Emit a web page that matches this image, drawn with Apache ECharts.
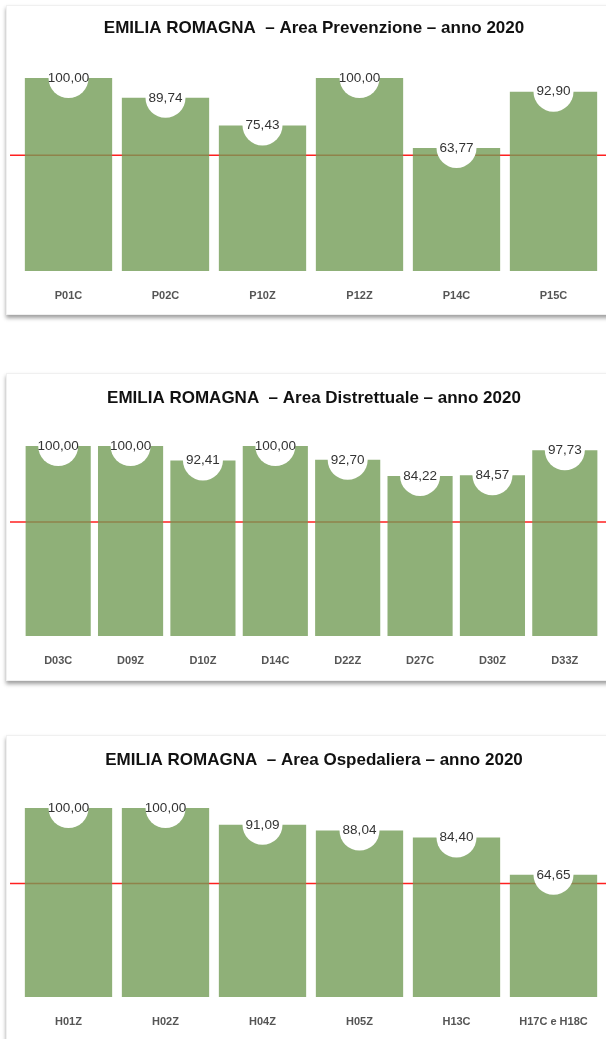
<!DOCTYPE html>
<html>
<head>
<meta charset="utf-8">
<title>Emilia Romagna 2020</title>
<script src="https://cdn.jsdelivr.net/npm/echarts@6/dist/echarts.min.js"></script>
<style>
  html, body { margin: 0; padding: 0; background: #fff; overflow: hidden; }
  body { width: 606px; height: 1039px; position: relative; }
  .card { position: absolute; left: 6px; width: 700px; background: #fff;
          border: 1px solid #f0f0f0; box-shadow: 0 3px 4px rgba(0,0,0,0.38); }
  #main { position: absolute; left: 0; top: 0; width: 606px; height: 1039px; }
</style>
</head>
<body>
<div class="card" style="top:5px;height:308px;"></div>
<div class="card" style="top:373px;height:306px;"></div>
<div class="card" style="top:735px;height:400px;"></div>
<div id="main"></div>
<script type="text/javascript">
// dati
var titoli = [
  'EMILIA ROMAGNA  \u2013 Area Prevenzione \u2013 anno 2020',
  'EMILIA ROMAGNA  \u2013 Area Distrettuale \u2013 anno 2020',
  'EMILIA ROMAGNA  \u2013 Area Ospedaliera \u2013 anno 2020'
];
var catPrev = ['P01C', 'P02C', 'P10Z', 'P12Z', 'P14C', 'P15C'];
var valPrev = [100.00, 89.74, 75.43, 100.00, 63.77, 92.90];
var catDist = ['D03C', 'D09Z', 'D10Z', 'D14C', 'D22Z', 'D27C', 'D30Z', 'D33Z'];
var valDist = [100.00, 100.00, 92.41, 100.00, 92.70, 84.22, 84.57, 97.73];
var catOsp = ['H01Z', 'H02Z', 'H04Z', 'H05Z', 'H13C', 'H17C e H18C'];
var valOsp = [100.00, 100.00, 91.09, 88.04, 84.40, 64.65];
var soglia = 60;

// layout dei tre pannelli
var pannelli = [
  { cat: catPrev, val: valPrev, titleY: 20, top: 78, height: 193, left: 20, right: 4 },
  { cat: catDist, val: valDist, titleY: 390, top: 446, height: 190, left: 22, right: 5 },
  { cat: catOsp, val: valOsp, titleY: 752, top: 808, height: 189, left: 20, right: 4 }
];

var font = 'Liberation Sans, Arial, Helvetica, sans-serif';
var fmt = function (v) { return v.toFixed(2).replace('.', ','); };

var title = [], grid = [], xAxis = [], yAxis = [], series = [];

pannelli.forEach(function (p, i) {
  title.push({
    text: titoli[i], left: 314, top: p.titleY, textAlign: 'center', padding: 0,
    textStyle: { fontFamily: font, fontSize: 17, fontWeight: 'bold', color: '#111' }
  });
  // griglia delle barre
  grid.push({ left: p.left, right: p.right, top: p.top, height: p.height });
  // griglia della soglia (più larga)
  grid.push({ left: 10, right: 0, top: p.top, height: p.height });

  var gb = i * 2, gs = i * 2 + 1;
  xAxis.push({
    type: 'category', gridIndex: gb, data: p.cat,
    axisLine: { show: false }, axisTick: { show: false },
    axisLabel: { margin: 19, fontFamily: font, fontSize: 11, fontWeight: 'bold', color: '#555', interval: 0 }
  });
  xAxis.push({ type: 'value', gridIndex: gs, min: 0, max: 1, show: false });
  yAxis.push({ type: 'value', gridIndex: gb, min: 0, max: 100, show: false });
  yAxis.push({ type: 'value', gridIndex: gs, min: 0, max: 100, show: false });

  series.push({
    type: 'line', xAxisIndex: gs, yAxisIndex: gs, z: 1,
    data: [[0, soglia], [1, soglia]], showSymbol: false, silent: true,
    lineStyle: { color: '#ff2020', width: 1.5 }
  });
  series.push({
    type: 'bar', xAxisIndex: gb, yAxisIndex: gb, z: 2,
    data: p.val, barCategoryGap: '10%',
    itemStyle: { color: '#739c56', opacity: 0.8 }
  });
  series.push({
    type: 'scatter', xAxisIndex: gb, yAxisIndex: gb, z: 3, clip: false,
    data: p.val, symbol: 'circle', symbolSize: 40,
    itemStyle: { color: '#fff', opacity: 1 },
    label: {
      show: true, position: 'inside', color: '#333', fontFamily: font, fontSize: 13.5,
      formatter: function (d) { return fmt(d.value); }
    }
  });
});

var myChart = echarts.init(document.getElementById('main'), null, { renderer: 'canvas' });
myChart.setOption({
  animation: false,
  backgroundColor: 'transparent',
  title: title,
  grid: grid,
  xAxis: xAxis,
  yAxis: yAxis,
  series: series
});
</script>
</body>
</html>
